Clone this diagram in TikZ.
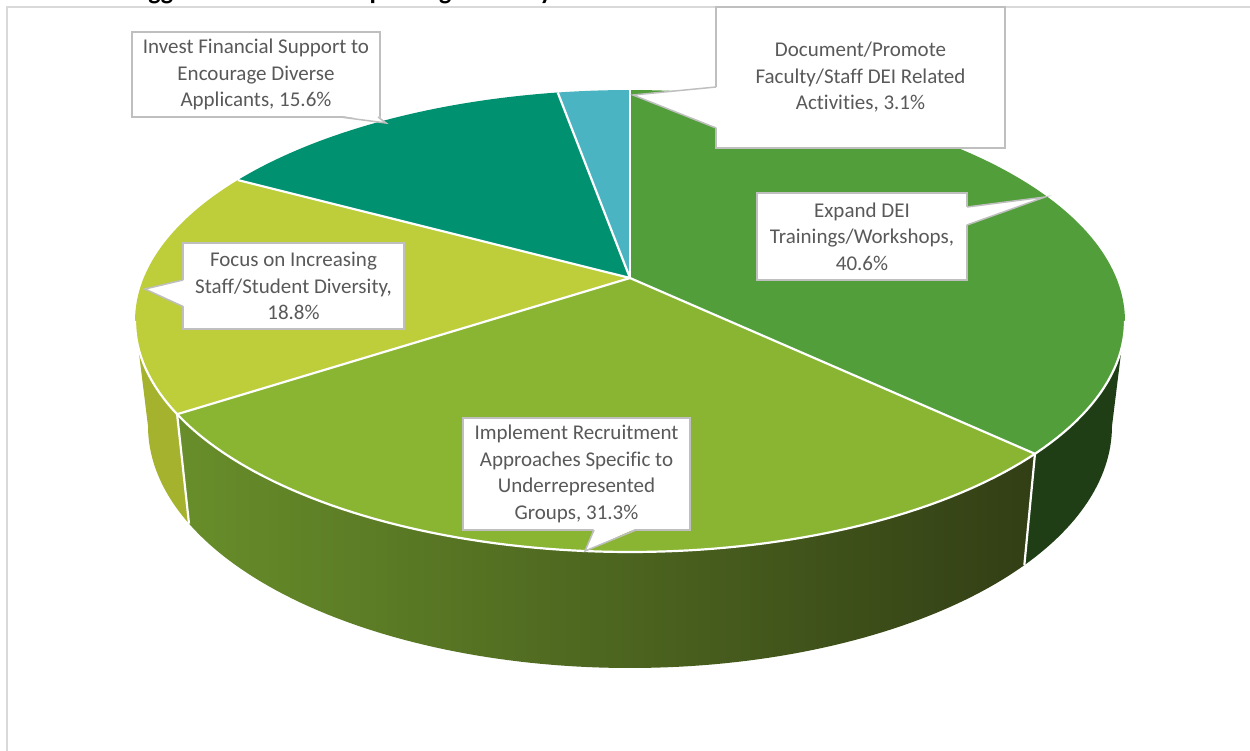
\documentclass[tikz,border=0pt]{standalone}
\usepackage{fontspec}
\setmainfont{Carlito}[Ligatures=NoCommon]
\usetikzlibrary{calc}
\definecolor{cExp}{RGB}{82,158,58}
\definecolor{cImp}{RGB}{138,181,50}
\definecolor{cFoc}{RGB}{190,205,58}
\definecolor{cInv}{RGB}{0,146,112}
\definecolor{cDoc}{RGB}{75,180,194}
\definecolor{sExp}{RGB}{31,62,22}
\definecolor{sImpL}{RGB}{104,142,42}
\definecolor{sImpR}{RGB}{50,62,21}
\definecolor{sFoc}{RGB}{165,178,45}
\definecolor{txtgray}{RGB}{89,89,89}
\definecolor{boxgray}{RGB}{191,191,191}
\definecolor{framegray}{RGB}{217,217,217}
\begin{document}
\begin{tikzpicture}[x=1pt,y=-1pt,
  lbl/.style={text=txtgray, align=center, font=\fontsize{21}{26.5}\selectfont,
    inner sep=0pt, fill=white, draw=boxgray, line width=1.5pt},
  wedgefill/.style={fill=white},
  wedgeline/.style={draw=boxgray, line width=1.5pt, line join=miter},
  sep/.style={draw=white, line width=2.2pt},
]
\useasboundingbox (0,0) rectangle (1250,750);
% frame
\draw[draw=framegray, line width=2.2pt] (7,760) -- (7,7) -- (1260,7);
% cut-off title
\node[anchor=base west, inner sep=0pt, font=\bfseries\fontsize{26}{30}\selectfont] (title) at (122,-0.5) {Suggested Areas for Improving Diversity};

\coordinate (V) at (630,278);
% sides
\fill[sFoc] plot[domain=180:203.8,samples=30] ({630+495*cos(\x)},{321-231*sin(\x)})
  -- plot[domain=203.8:180,samples=30] ({630+482*cos(\x)},{426-242*sin(\x)}) -- cycle;
\shade[left color=sImpL, right color=sImpR] plot[domain=203.8:324.9,samples=90] ({630+495*cos(\x)},{321-231*sin(\x)})
  -- plot[domain=324.9:203.8,samples=90] ({630+482*cos(\x)},{426-242*sin(\x)}) -- cycle;
\fill[sExp] plot[domain=324.9:360,samples=30] ({630+495*cos(\x)},{321-231*sin(\x)})
  -- plot[domain=360:324.9,samples=30] ({630+482*cos(\x)},{426-242*sin(\x)}) -- cycle;

% top faces
\fill[cExp] (V) -- plot[domain=-35.1:90,samples=90] ({630+495*cos(\x)},{321-231*sin(\x)}) -- cycle;
\fill[cDoc] (V) -- plot[domain=90:98.4,samples=10] ({630+495*cos(\x)},{321-231*sin(\x)}) -- cycle;
\fill[cInv] (V) -- plot[domain=98.4:142.4,samples=40] ({630+495*cos(\x)},{321-231*sin(\x)}) -- cycle;
\fill[cFoc] (V) -- plot[domain=142.4:203.8,samples=50] ({630+495*cos(\x)},{321-231*sin(\x)}) -- cycle;
\fill[cImp] (V) -- plot[domain=203.8:324.9,samples=90] ({630+495*cos(\x)},{321-231*sin(\x)}) -- cycle;

% rim points
\foreach \a/\n in {90/b1, 98.4/b2, 142.4/b3, 203.8/b4, 324.9/b5}{
  \coordinate (T\n) at ({630+495*cos(\a)},{321-231*sin(\a)});
  \coordinate (B\n) at ({630+482*cos(\a)},{426-242*sin(\a)});
}
% white separators
\draw[sep] plot[domain=180:360,samples=120] ({630+495*cos(\x)},{321-231*sin(\x)});
\foreach \n in {b1,b2,b3,b4,b5}{ \draw[sep] (V) -- (T\n); }
\draw[sep] (Tb4) -- (Bb4);
\draw[sep] (Tb5) -- (Bb5);

% callouts
\node[lbl, minimum width=248, minimum height=85] (inv) at (256,74.5)
  {Invest Financial Support to\\Encourage Diverse\\Applicants, 15.6\%};
\coordinate (invtip) at (386,123);
\fill[wedgefill] (340,115.5) -- (invtip) -- (378,115.5) -- cycle;
\draw[wedgeline] (340,117) -- (invtip) -- (378,117);

\node[lbl, minimum width=289, minimum height=141] (doc) at (860.5,77.5)
  {Document/Promote\\Faculty/Staff DEI Related\\Activities, 3.1\%};
\coordinate (doctip) at (633,95);
\fill[wedgefill] (717.5,87) -- (doctip) -- (717.5,128) -- cycle;
\draw[wedgeline] (716,87) -- (doctip) -- (716,128);

\node[lbl, minimum width=210, minimum height=87] (exp) at (862,236.5)
  {Expand DEI\\Trainings/Workshops,\\40.6\%};
\coordinate (exptip) at (1045,197);
\fill[wedgefill] (965.5,207) -- (exptip) -- (965.5,225) -- cycle;
\draw[wedgeline] (967,207) -- (exptip) -- (967,225);

\node[lbl, minimum width=221, minimum height=86] (foc) at (293.5,286)
  {Focus on Increasing\\Staff/Student Diversity,\\18.8\%};
\coordinate (foctip) at (145,289);
\fill[wedgefill] (184.5,280) -- (foctip) -- (184.5,306.5) -- cycle;
\draw[wedgeline] (183,280) -- (foctip) -- (183,306.5);

\node[lbl, minimum width=227, minimum height=112] (imp) at (576.5,474)
  {Implement Recruitment\\Approaches Specific to\\Underrepresented\\Groups, 31.3\%};
\coordinate (imptip) at (585,551);
\fill[wedgefill] (594,528.5) -- (imptip) -- (636,528.5) -- cycle;
\draw[wedgeline] (594,530) -- (imptip) -- (636,530);
\end{tikzpicture}
\end{document}
